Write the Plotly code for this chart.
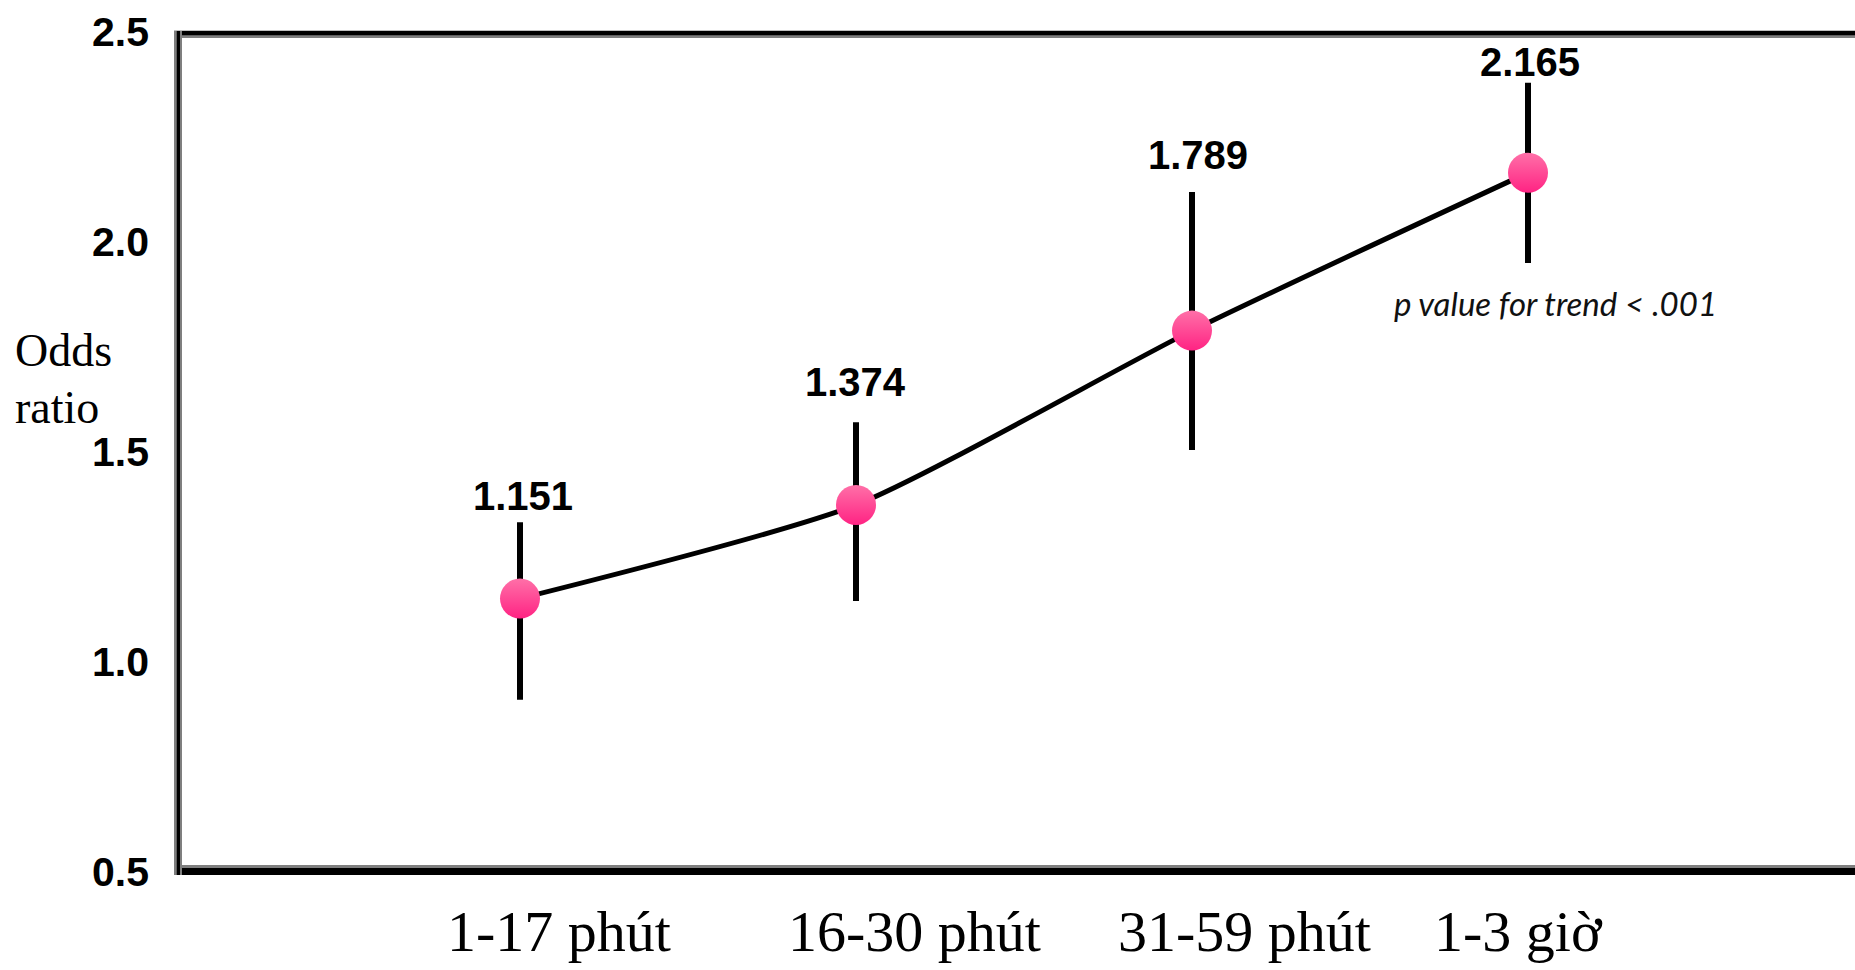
import plotly.graph_objects as go

# Exposure duration groups and odds ratios with 95% CI
categories = ["1-17 phút", "16-30 phút", "31-59 phút", "1-3 giờ"]
odds_ratio = [1.151, 1.374, 1.789, 2.165]
ci_lower = [0.910, 1.145, 1.505, 1.950]
ci_upper = [1.333, 1.571, 2.119, 2.379]
y_ticks = [0.5, 1.0, 1.5, 2.0, 2.5]
y_tick_text = ["0.5", "1.0", "1.5", "2.0", "2.5"]
trend_note = "p value for trend < .001"

xpos = list(range(len(categories)))

# figure geometry
W, H = 1855, 970
ML, MR, MT, MB = 178, 0, 32, 98
PW, PH = W - ML - MR, H - MT - MB


def px_x(p):
    return (p - ML) / PW


def px_y(p):
    return (H - MB - p) / PH


SANS = "Liberation Sans, Arial, sans-serif"
SERIF = "Liberation Serif, Times New Roman, serif"

fig = go.Figure()

# confidence intervals
fig.add_trace(go.Scatter(
    x=xpos, y=odds_ratio, mode="markers",
    marker=dict(size=1, color="rgba(0,0,0,0)"),
    error_y=dict(type="data", symmetric=False,
                 array=[u - v for u, v in zip(ci_upper, odds_ratio)],
                 arrayminus=[v - l for v, l in zip(odds_ratio, ci_lower)],
                 color="black", thickness=6, width=0),
    hoverinfo="skip", showlegend=False,
))

# smoothed trend line
fig.add_trace(go.Scatter(
    x=xpos, y=odds_ratio, mode="lines",
    line=dict(color="black", width=5, shape="spline", smoothing=0.6),
    hoverinfo="skip", showlegend=False,
))

# point estimates (lighter on top, deeper pink at the bottom)
fig.add_trace(go.Scatter(
    x=xpos, y=odds_ratio, mode="markers",
    marker=dict(size=40, color="#ff70a8",
                gradient=dict(type="vertical", color="#ff2383"),
                line=dict(width=0)),
    showlegend=False,
))

annotations = []

# value labels above each interval
label_dx = [3, -1, 6, 2]
label_dy = [26, 40, 37, 21]
for i, (v, u) in enumerate(zip(odds_ratio, ci_upper)):
    annotations.append(dict(
        x=xpos[i], y=u, xref="x", yref="y", text=f"{v:.3f}",
        showarrow=False, xanchor="center", yanchor="middle",
        xshift=label_dx[i], yshift=label_dy[i],
        font=dict(family=SANS, size=40, color="black", weight="bold"),
    ))

# category labels under the frame
cat_dx = [39, 58, 52, -10]
for i, c in enumerate(categories):
    annotations.append(dict(
        x=xpos[i], y=px_y(931), xref="x", yref="paper", text=c,
        showarrow=False, xanchor="center", yanchor="middle", xshift=cat_dx[i],
        font=dict(family=SERIF, size=58, color="black"),
    ))

# y-axis title on two lines
for word, yp in (("Odds", 350), ("ratio", 408)):
    annotations.append(dict(
        x=px_x(13), y=px_y(yp), xref="paper", yref="paper", text=word,
        showarrow=False, xanchor="left", yanchor="middle",
        font=dict(family=SERIF, size=46, color="black"),
    ))

# trend note
annotations.append(dict(
    x=px_x(1555), y=px_y(303), xref="paper", yref="paper", text=f"<i>{trend_note}</i>",
    showarrow=False, xanchor="center", yanchor="middle",
    font=dict(family="Lato, Open Sans, sans-serif", size=33, color="#111111"),
))

# frame: black border with a thin grey inner edge, open on the right
shapes = []


def hline(yp, width, color):
    shapes.append(dict(type="line", xref="paper", yref="paper",
                       x0=px_x(174), x1=1.01, y0=px_y(yp), y1=px_y(yp),
                       line=dict(color=color, width=width)))


def vline(xp, width, color):
    shapes.append(dict(type="line", xref="paper", yref="paper",
                       x0=px_x(xp), x1=px_x(xp), y0=px_y(875), y1=px_y(31),
                       line=dict(color=color, width=width)))


hline(866.5, 3, "#7f7f7f")
hline(871.5, 7, "black")
hline(36.5, 3, "#7f7f7f")
hline(33, 4.5, "black")
vline(175.5, 3, "#7f7f7f")
vline(178.5, 3.5, "black")
vline(181, 2, "#7f7f7f")

fig.update_layout(
    width=W, height=H,
    margin=dict(l=ML, r=MR, t=MT, b=MB, pad=0),
    paper_bgcolor="white", plot_bgcolor="white",
    showlegend=False,
    xaxis=dict(range=[(ML - 520) / 336, (W - 520) / 336], showgrid=False, zeroline=False,
               showticklabels=False, showline=False, ticks=""),
    yaxis=dict(range=[0.5, 2.5], tickvals=y_ticks, ticktext=y_tick_text,
               showgrid=False, zeroline=False, showline=False, ticks="",
               ticklabelstandoff=28,
               tickfont=dict(family=SANS, size=41, color="black", weight="bold")),
    annotations=annotations,
    shapes=shapes,
)

fig.write_html("out.html", config={"displayModeBar": False})
